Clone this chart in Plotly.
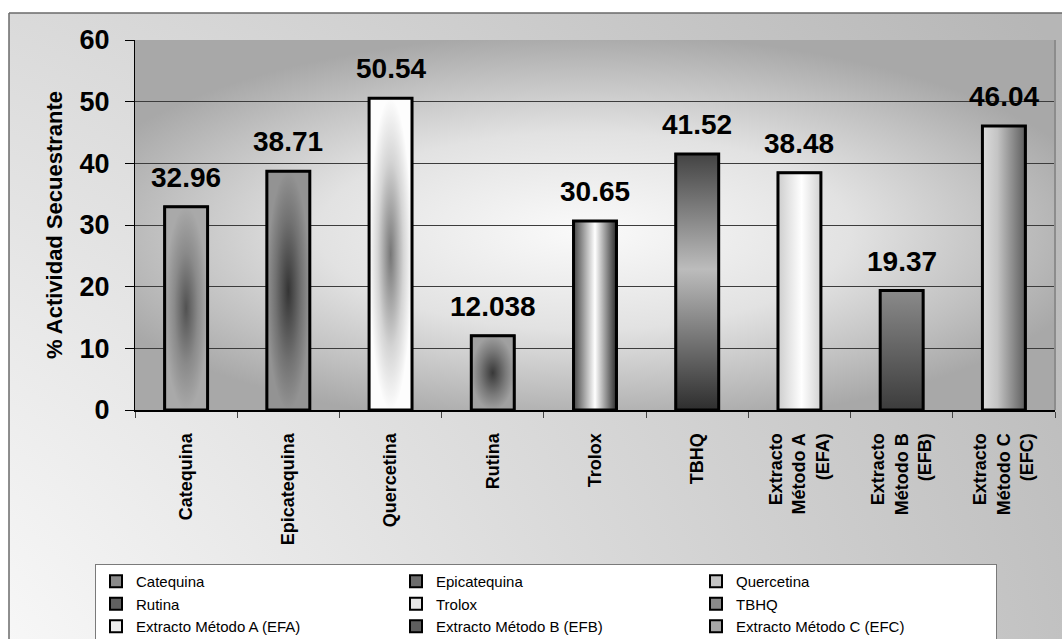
import plotly.graph_objects as go

# ---- data -------------------------------------------------------------
categories = [
    "Catequina", "Epicatequina", "Quercetina", "Rutina", "Trolox", "TBHQ",
    "Extracto Método A (EFA)", "Extracto Método B (EFB)", "Extracto Método C (EFC)",
]
tick_labels = [
    "Catequina", "Epicatequina", "Quercetina", "Rutina", "Trolox", "TBHQ",
    "Extracto<br>Método A<br>(EFA)", "Extracto<br>Método B<br>(EFB)", "Extracto<br>Método C<br>(EFC)",
]
values = [32.96, 38.71, 50.54, 12.038, 30.65, 41.52, 38.48, 19.37, 46.04]
y_ticks = [0, 10, 20, 30, 40, 50, 60]
y_title = "% Actividad Secuestrante"

# ---- styling ----------------------------------------------------------
W, H = 1062, 639
FONT = "Arial, 'Liberation Sans', sans-serif"
BAR_W = 0.42

legend_colors = ["#8a8a8a", "#6c6c6c", "#c4c4c4", "#606060", "#e6e6e6",
                 "#8a8a8a", "#eeeeee", "#5e5e5e", "#a6a6a6"]

bar_fills = [
    ("radial", [[0, "#525252"], [0.55, "#8a8a8a"], [1, "#a9a9a9"]]),
    ("radial", [[0, "#343434"], [0.6, "#727272"], [1, "#939393"]]),
    ("radial", [[0, "#767676"], [0.6, "#d4d4d4"], [1, "#fdfdfd"]]),
    ("radial", [[0, "#383838"], [0.6, "#7a7a7a"], [1, "#a0a0a0"]]),
    ("horizontal", [[0, "#474747"], [0.5, "#ffffff"], [1, "#2c2c2c"]]),
    ("vertical", [[0, "#2e2e2e"], [0.55, "#bcbcbc"], [1, "#434343"]]),
    ("horizontal", [[0, "#cdcdcd"], [0.55, "#ffffff"], [1, "#d2d2d2"]]),
    ("vertical", [[0, "#3c3c3c"], [1, "#8a8a8a"]]),
    ("horizontal", [[0, "#dcdcdc"], [0.35, "#c4c4c4"], [1, "#5e5e5e"]]),
]


def px_x(p):
    return p / W


def px_y(p):
    return 1 - p / H


plot_x = [px_x(135), px_x(1055)]
plot_y = [px_y(410), px_y(40)]
x_range = [-0.5, len(categories) - 0.5]
y_range = [y_ticks[0], y_ticks[-1]]

fig = go.Figure()

# chart-area backdrop (soft light-to-grey sweep)
fig.add_trace(go.Scatter(
    x=[-1.813, 1.226, 1.226, -1.813, -1.813],
    y=[-2.973, -2.973, 2.139, 2.139, -2.973],
    fill="toself", mode="none", showlegend=False, hoverinfo="skip",
    fillgradient=dict(type="radial",
                      colorscale=[[0, "#ffffff"], [0.25, "#f7f7f7"], [1, "#b6b6b6"]]),
    xaxis="x", yaxis="y",
))

# plot-area backdrop (bright centre, grey edges)
fig.add_trace(go.Scatter(
    x=[-1.3, 9.1, 9.1, -1.3, -1.3],
    y=[-3, -3, 61, 61, -3],
    fill="toself", mode="none", showlegend=False, hoverinfo="skip",
    fillgradient=dict(type="radial",
                      colorscale=[[0, "#fafafa"], [0.5, "#e2e2e2"], [0.8, "#c0c0c0"], [1, "#a8a8a8"]]),
    xaxis="x2", yaxis="y2",
))

# bars (these carry the legend entries)
for i, (name, v) in enumerate(zip(categories, values)):
    fig.add_trace(go.Bar(
        x=[i], y=[v], width=BAR_W, name=name,
        marker=dict(color=legend_colors[i], line=dict(color="black", width=2)),
        xaxis="x3", yaxis="y3", hoverinfo="skip",
    ))

# shaded faces drawn over each bar
for i, v in enumerate(values):
    x0, x1 = i - BAR_W / 2, i + BAR_W / 2
    gtype, cscale = bar_fills[i]
    fig.add_trace(go.Scatter(
        x=[x0, x1, x1, x0, x0], y=[0, 0, v, v, 0],
        fill="toself", mode="lines",
        line=dict(color="black", width=3),
        fillgradient=dict(type=gtype, colorscale=cscale),
        showlegend=False, hoverinfo="skip",
        xaxis="x3", yaxis="y3",
    ))

# value labels
for i, v in enumerate(values):
    fig.add_annotation(
        x=i, y=v, xref="x3", yref="y3", text=f"{v:g}", showarrow=False,
        yanchor="bottom", yshift=12,
        font=dict(family=FONT, size=28, color="black", weight="bold"),
    )

hidden = dict(visible=False, fixedrange=True)
fig.update_layout(
    width=W, height=H,
    margin=dict(l=0, r=0, t=0, b=0, pad=0, autoexpand=False),
    paper_bgcolor="white",
    plot_bgcolor="rgba(0,0,0,0)",
    barmode="overlay",
    xaxis=dict(domain=[px_x(9), 1], range=[0, 1], **hidden),
    yaxis=dict(domain=[0, px_y(13)], range=[0, 1], **hidden),
    xaxis2=dict(domain=plot_x, range=x_range, anchor="y2", **hidden),
    yaxis2=dict(domain=plot_y, range=y_range, anchor="x2", **hidden),
    xaxis3=dict(
        domain=plot_x, range=x_range, anchor="y3",
        tickmode="array", tickvals=list(range(len(categories))), ticktext=tick_labels,
        tickangle=-90, ticks="outside", ticklen=14, tickcolor="rgba(0,0,0,0)",
        tickfont=dict(family=FONT, size=18, color="black", weight="bold"),
        minor=dict(tickmode="array",
                   tickvals=[i - 0.5 for i in range(len(categories) + 1)],
                   ticks="outside", ticklen=6, tickcolor="#444444", showgrid=False),
        showline=True, linecolor="black", linewidth=2,
        showgrid=False, zeroline=False, fixedrange=True, automargin=False,
    ),
    yaxis3=dict(
        domain=plot_y, range=y_range, anchor="x3",
        tickmode="array", tickvals=y_ticks,
        ticks="outside", ticklen=9, tickcolor="black",
        ticklabelstandoff=10,
        tickfont=dict(family=FONT, size=27, color="black", weight="bold"),
        showline=True, linecolor="black", linewidth=1,
        showgrid=True, gridcolor="#3c3c3c", gridwidth=1, zeroline=False,
        title=dict(text=y_title, standoff=10,
                   font=dict(family=FONT, size=22, color="black", weight="bold")),
        fixedrange=True, automargin=False,
    ),
    legend=dict(
        orientation="h", x=px_x(95), y=px_y(564), xanchor="left", yanchor="top",
        bgcolor="white", bordercolor="#7a7a7a", borderwidth=1,
        font=dict(family=FONT, size=15, color="black"),
        entrywidth=255, traceorder="normal", tracegroupgap=0,
    ),
    shapes=[
        dict(type="line", xref="paper", yref="paper", x0=px_x(9), x1=px_x(9),
             y0=0, y1=px_y(13), line=dict(color="#6a6a6a", width=1.5)),
        dict(type="line", xref="paper", yref="paper", x0=px_x(9), x1=1,
             y0=px_y(13), y1=px_y(13), line=dict(color="#6a6a6a", width=1.5)),
        dict(type="line", xref="x3 domain", yref="y3 domain", x0=1, x1=1,
             y0=0, y1=1, line=dict(color="#8c8c8c", width=2)),
    ],
)

fig.write_html("out.html")
